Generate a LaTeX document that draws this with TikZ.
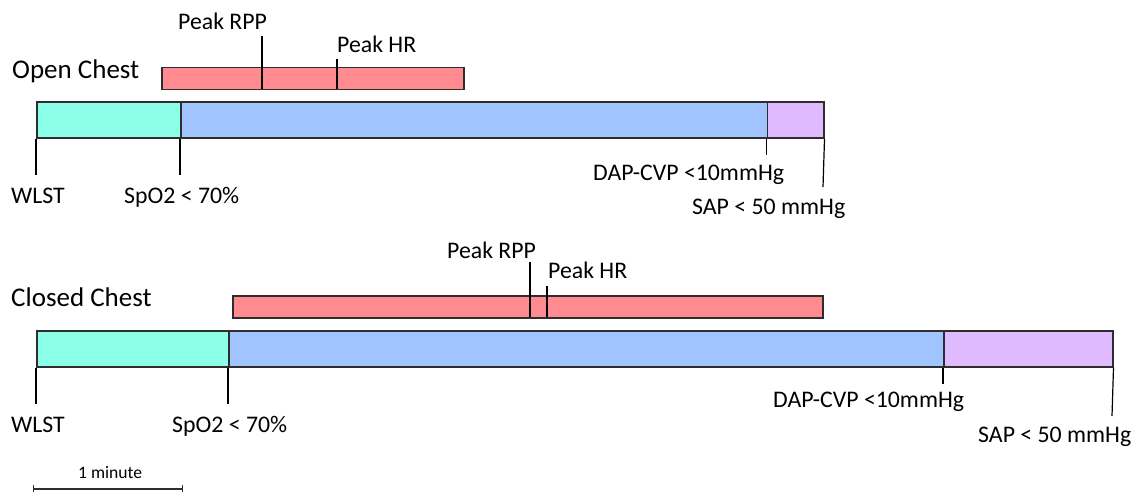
\documentclass[tikz,border=0pt]{standalone}
\usepackage{fontspec}
\setmainfont{Carlito}
\definecolor{cgreen}{RGB}{140,255,232}
\definecolor{cblue}{RGB}{160,196,255}
\definecolor{cpurple}{RGB}{224,186,255}
\definecolor{cred}{RGB}{255,138,143}
\definecolor{cedge}{RGB}{45,45,45}
\begin{document}
\begin{tikzpicture}[x=1pt,y=-1pt,
  seg/.style={draw=cedge,line width=1.5pt,fill=#1,rectangle,inner sep=0pt,anchor=north west},
  tick/.style={draw=black,line width=1.2pt},
  lab/.style={anchor=base west,inner sep=0pt,font=\fontsize{23.8}{28}\selectfont},
  title/.style={anchor=base west,inner sep=0pt,font=\fontsize{27}{32}\selectfont},
  small/.style={anchor=base west,inner sep=0pt,font=\fontsize{17.6}{20}\selectfont}]
\useasboundingbox (0,0) rectangle (1135,492);
% ---------------- Open chest ----------------
\node[title] (otitle) at (12,79) {Open Chest};
\node[seg=cred,minimum width=302pt,minimum height=22pt] (ored) at (161,67) {};
\node[seg=cgreen,minimum width=144pt,minimum height=36pt] (og) at (36,101.5) {};
\node[seg=cblue,minimum width=586.5pt,minimum height=36pt] (ob) at (180,101.5) {};
\node[seg=cpurple,minimum width=56.5pt,minimum height=36pt] (op) at (766.5,101.5) {};
\node[lab] (orpp) at (178,30) {Peak RPP};
\node[lab] (ohr) at (337,53) {Peak HR};
\node[lab] (owlst) at (11,203) {WLST};
\node[lab] (ospo) at (124,203) {SpO2 < 70\%};
\node[lab] (odap) at (593,180) {DAP-CVP <10mmHg};
\node[lab] (osap) at (692,214) {SAP < 50 mmHg};
\coordinate (orppT) at (262,36);
\coordinate (orppB) at (262,89);
\coordinate (ohrT) at (337,59);
\coordinate (ohrB) at (337,89);
\coordinate (owlstE) at (36,175);
\coordinate (ospoE) at (180,175);
\coordinate (odapE) at (766.5,155);
\coordinate (osapE) at (823,187);
\draw[tick] (orppT) -- (orppB);
\draw[tick] (ohrT) -- (ohrB);
\draw[tick] (og.south west) -- (owlstE);
\draw[tick] (ob.south west) -- (ospoE);
\draw[tick] (op.south west) -- (odapE);
\draw[tick] (op.south east) -- (osapE);
% ---------------- Closed chest ----------------
\node[title] (ctitle) at (11,306) {Closed Chest};
\node[seg=cred,minimum width=590pt,minimum height=22pt] (cred) at (232,295) {};
\node[seg=cgreen,minimum width=192pt,minimum height=36pt] (cg) at (36,330) {};
\node[seg=cblue,minimum width=715pt,minimum height=36pt] (cb) at (228,330) {};
\node[seg=cpurple,minimum width=169pt,minimum height=36pt] (cp) at (943,330) {};
\node[lab] (crpp) at (447,258) {Peak RPP};
\node[lab] (chr) at (548,278) {Peak HR};
\node[lab] (cwlst) at (11,432) {WLST};
\node[lab] (cspo) at (172,432) {SpO2 < 70\%};
\node[lab] (cdap) at (773,407) {DAP-CVP <10mmHg};
\node[lab] (csap) at (978,442) {SAP < 50 mmHg};
\coordinate (crppT) at (530,262);
\coordinate (crppB) at (530,317);
\coordinate (chrT) at (547,286);
\coordinate (chrB) at (547,317);
\coordinate (cwlstE) at (36,404);
\coordinate (cspoE) at (228,404);
\coordinate (cdapE) at (943,384);
\coordinate (csapE) at (1112,416);
\draw[tick] (crppT) -- (crppB);
\draw[tick] (chrT) -- (chrB);
\draw[tick] (cg.south west) -- (cwlstE);
\draw[tick] (cb.south west) -- (cspoE);
\draw[tick] (cp.south west) -- (cdapE);
\draw[tick] (cp.south east) -- (csapE);
% ---------------- scale bar ----------------
\node[small] (scl) at (78,478) {1 minute};
\coordinate (sA) at (33.5,489);
\coordinate (sB) at (182.5,489);
\draw[draw=cedge,line width=1.5pt] (sA) -- (sB);
\draw[draw=cedge,line width=1.2pt] ([yshift=-4pt]sA) -- ([yshift=4pt]sA);
\draw[draw=cedge,line width=1.2pt] ([yshift=-4pt]sB) -- ([yshift=4pt]sB);
\end{tikzpicture}
\end{document}
